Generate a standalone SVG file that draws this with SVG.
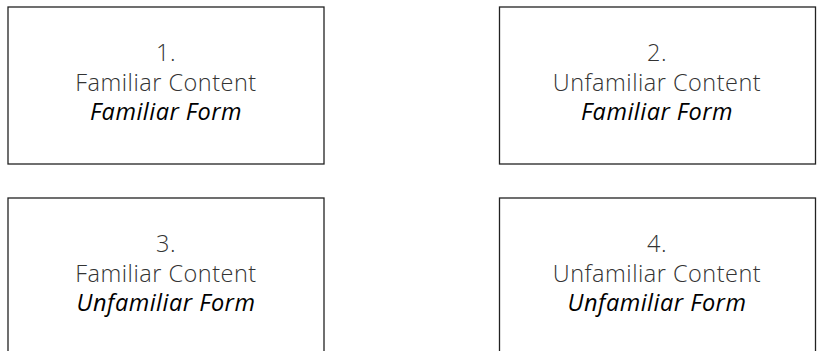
<svg xmlns="http://www.w3.org/2000/svg" width="818" height="351" viewBox="0 0 818 351">
<style>
.box{fill:#fff;stroke:#222;stroke-width:1.3}
.t{font-family:"Open Sans","Liberation Sans",sans-serif;font-size:23.5px;letter-spacing:0.5px;font-weight:300;fill:#333;text-anchor:middle}
.i{font-family:"Open Sans","Liberation Sans",sans-serif;font-size:23.5px;letter-spacing:0.5px;font-style:italic;font-weight:500;fill:#000;text-anchor:middle}
</style>
<rect width="818" height="351" fill="#fff"/>
<g id="node1">
<rect class="box" x="8" y="7" width="316" height="157"/>
<text class="t" x="166" y="60.5">1.</text>
<text class="t" x="166" y="90.5">Familiar Content</text>
<text class="i" x="166" y="120">Familiar Form</text>
</g>
<g id="node2">
<rect class="box" x="499.5" y="7" width="316" height="157"/>
<text class="t" x="657" y="60.5">2.</text>
<text class="t" x="657" y="90.5">Unfamiliar Content</text>
<text class="i" x="657" y="120">Familiar Form</text>
</g>
<g id="node3">
<rect class="box" x="8" y="198" width="316" height="170"/>
<text class="t" x="166" y="251.5">3.</text>
<text class="t" x="166" y="281.5">Familiar Content</text>
<text class="i" x="166" y="311">Unfamiliar Form</text>
</g>
<g id="node4">
<rect class="box" x="499.5" y="198" width="316" height="170"/>
<text class="t" x="657" y="251.5">4.</text>
<text class="t" x="657" y="281.5">Unfamiliar Content</text>
<text class="i" x="657" y="311">Unfamiliar Form</text>
</g>
<g id="connectors"/>
</svg>
